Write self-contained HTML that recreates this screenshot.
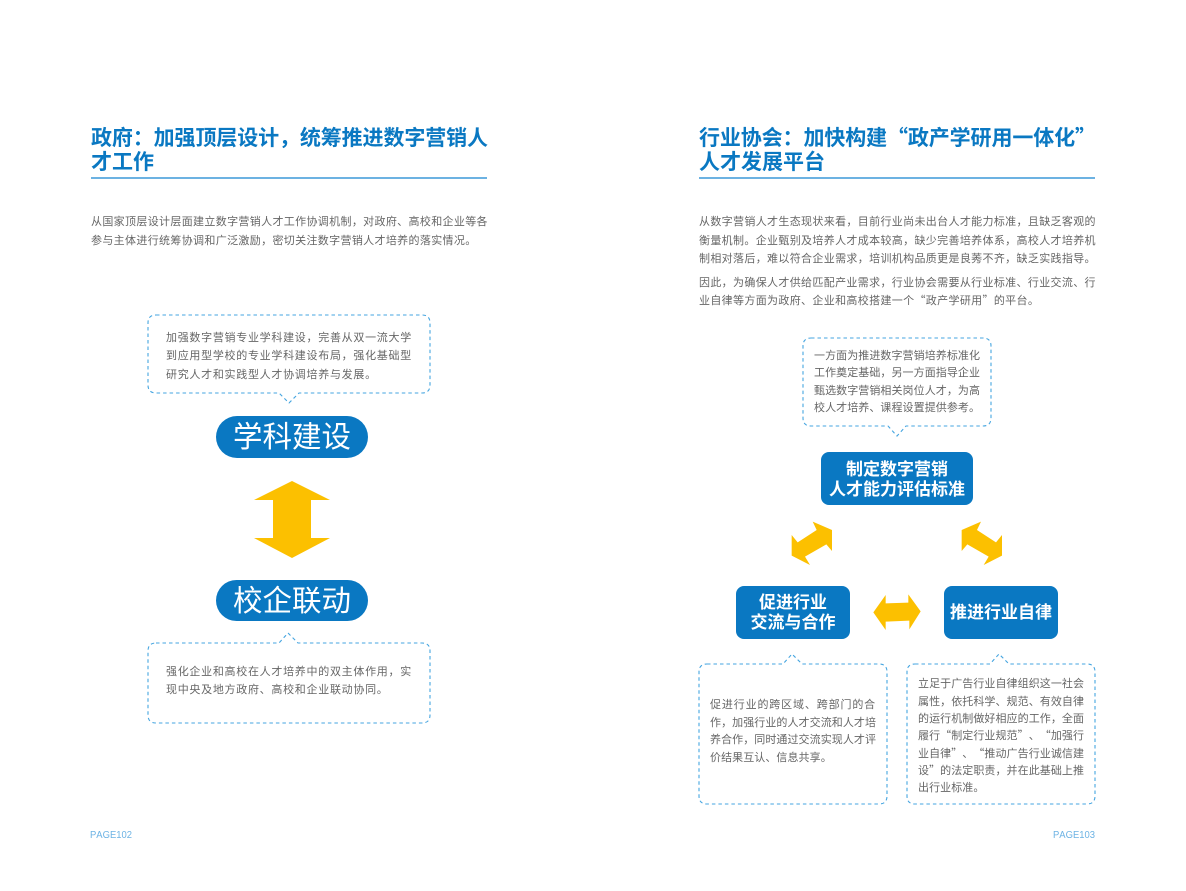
<!DOCTYPE html>
<html lang="zh-CN"><head><meta charset="utf-8"><style>
html,body{margin:0;padding:0;background:#fff}
svg{display:block}
text{font-family:"Noto Sans CJK SC","WenQuanYi Zen Hei",sans-serif;text-spacing-trim:space-all;font-kerning:none}
.t{font-size:21px;font-weight:700;fill:#0a78c2}
.b{font-size:11px;fill:#666}
.w35{letter-spacing:.34px}.w21{letter-spacing:.71px}.w15{letter-spacing:.07px}.w14{letter-spacing:.86px}
.h{font-size:17px;font-weight:700;fill:#fff;text-anchor:middle}
.p{font-size:29.5px;fill:#fff;text-anchor:middle}
.pg{font-family:"Liberation Sans",sans-serif;font-size:10.5px;fill:#6db3e4}
.d{fill:none;stroke:#45a5e0;stroke-width:1.1;stroke-dasharray:3.5 3}
.r{fill:#0a78c2}
.a{fill:#fcc000}
</style></head><body>
<svg xmlns="http://www.w3.org/2000/svg" width="1186" height="891" viewBox="0 0 1186 891">
<text class="t" x="91" y="145" textLength="397">政府：加强顶层设计，统筹推进数字营销人</text>
<text class="t" x="91" y="169" textLength="63">才工作</text>
<rect x="91" y="177" width="396" height="2" fill="#6cb2e2"/>
<text class="b w35" x="91" y="225">从国家顶层设计层面建立数字营销人才工作协调机制，对政府、高校和企业等各</text>
<text class="b w35" x="91" y="244">参与主体进行统筹协调和广泛激励，密切关注数字营销人才培养的落实情况。</text>

<path class="d" d="M156 315H422Q430 315 430 323V385Q430 393 422 393H299L289 403L279 393H156Q148 393 148 385V323Q148 315 156 315Z"/>
<text class="b w21" x="166" y="341">加强数字营销专业学科建设，完善从双一流大学</text>
<text class="b w21" x="166" y="359">到应用型学校的专业学科建设布局，强化基础型</text>
<text class="b w21" x="166" y="378">研究人才和实践型人才协调培养与发展。</text>
<rect class="r" x="216" y="416" width="152" height="42" rx="21"/>
<text class="p" x="292" y="447">学科建设</text>
<polygon class="a" points="292,481 330,500 311,500 311,538 330,538 292,558 254,538 273,538 273,500 254,500"/>
<rect class="r" x="216" y="580" width="152" height="41" rx="20.5"/>
<text class="p" x="292" y="611">校企联动</text>
<path class="d" d="M156 643H279L288 633L298 643H422Q430 643 430 651V715Q430 723 422 723H156Q148 723 148 715V651Q148 643 156 643Z"/>
<text class="b w21" x="166" y="675">强化企业和高校在人才培养中的双主体作用，实</text>
<text class="b w21" x="166" y="693">现中央及地方政府、高校和企业联动协同。</text>
<text class="pg" x="90" y="838" textLength="42" lengthAdjust="spacingAndGlyphs">PAGE102</text>

<text class="t" x="699" y="145" textLength="397">行业协会：加快构建“政产学研用一体化”</text>
<text class="t" x="699" y="169" textLength="126">人才发展平台</text>
<rect x="699" y="177" width="396" height="2" fill="#6cb2e2"/>
<text class="b w35" x="699" y="225">从数字营销人才生态现状来看，目前行业尚未出台人才能力标准，且缺乏客观的</text>
<text class="b w35" x="699" y="244">衡量机制。企业甄别及培养人才成本较高，缺少完善培养体系，高校人才培养机</text>
<text class="b w35" x="699" y="262">制相对落后，难以符合企业需求，培训机构品质更是良莠不齐，缺乏实践指导。</text>
<text class="b w35" x="699" y="286">因此，为确保人才供给匹配产业需求，行业协会需要从行业标准、行业交流、行</text>
<text class="b w35" x="699" y="304">业自律等方面为政府、企业和高校搭建一个“政产学研用”的平台。</text>

<path class="d" d="M811 338H983Q991 338 991 346V418Q991 426 983 426H906L897 436L888 426H811Q803 426 803 418V346Q803 338 811 338Z"/>
<text class="b w15" x="814" y="359">一方面为推进数字营销培养标准化</text>
<text class="b w15" x="814" y="376">工作奠定基础，另一方面指导企业</text>
<text class="b w15" x="814" y="394">甄选数字营销相关岗位人才，为高</text>
<text class="b w15" x="814" y="411">校人才培养、课程设置提供参考。</text>

<rect class="r" x="821" y="452" width="152" height="53" rx="8"/>
<text class="h" x="897" y="475">制定数字营销</text>
<text class="h" x="897" y="495">人才能力评估标准</text>
<rect class="r" x="736" y="586" width="114" height="53" rx="8"/>
<text class="h" x="793" y="608">促进行业</text>
<text class="h" x="793" y="628">交流与合作</text>
<rect class="r" x="944" y="586" width="114" height="53" rx="8"/>
<text class="h" x="1001" y="618">推进行业自律</text>

<g transform="translate(730 440) scale(.33333)">
<polygon class="a" points="248,245 306,270 306,333 289,313 225,350 240,375 185,347 185,285 203,307 260,270"/>
<polygon class="a" points="753,245 695,270 695,333 712,313 776,350 761,375 816,347 816,285 798,307 741,270"/>
<polygon class="a" points="430,517 467,465 467,490 535,488 535,463 572,514 538,568 538,542 467,545 467,570"/>
</g>

<path class="d" d="M707 664H783L792 654L802 664H879Q887 664 887 672V796Q887 804 879 804H707Q699 804 699 796V672Q699 664 707 664Z"/>
<text class="b w14" x="710" y="708">促进行业的跨区域、跨部门的合</text>
<text class="b w15" x="710" y="726">作，加强行业的人才交流和人才培</text>
<text class="b w15" x="710" y="743">养合作，同时通过交流实现人才评</text>
<text class="b w15" x="710" y="761">价结果互认、信息共享。</text>

<path class="d" d="M915 664H990L999 654L1009 664H1087Q1095 664 1095 672V796Q1095 804 1087 804H915Q907 804 907 796V672Q907 664 915 664Z"/>
<text class="b w15" x="918" y="687">立足于广告行业自律组织这一社会</text>
<text class="b w15" x="918" y="705">属性，依托科学、规范、有效自律</text>
<text class="b w15" x="918" y="722">的运行机制做好相应的工作，全面</text>
<text class="b w15" x="918" y="739">履行“制定行业规范”、“加强行</text>
<text class="b w15" x="918" y="757">业自律”、“推动广告行业诚信建</text>
<text class="b w15" x="918" y="774">设”的法定职责，并在此基础上推</text>
<text class="b w15" x="918" y="791">出行业标准。</text>
<text class="pg" x="1053" y="838" textLength="42" lengthAdjust="spacingAndGlyphs">PAGE103</text>
</svg>
</body></html>
